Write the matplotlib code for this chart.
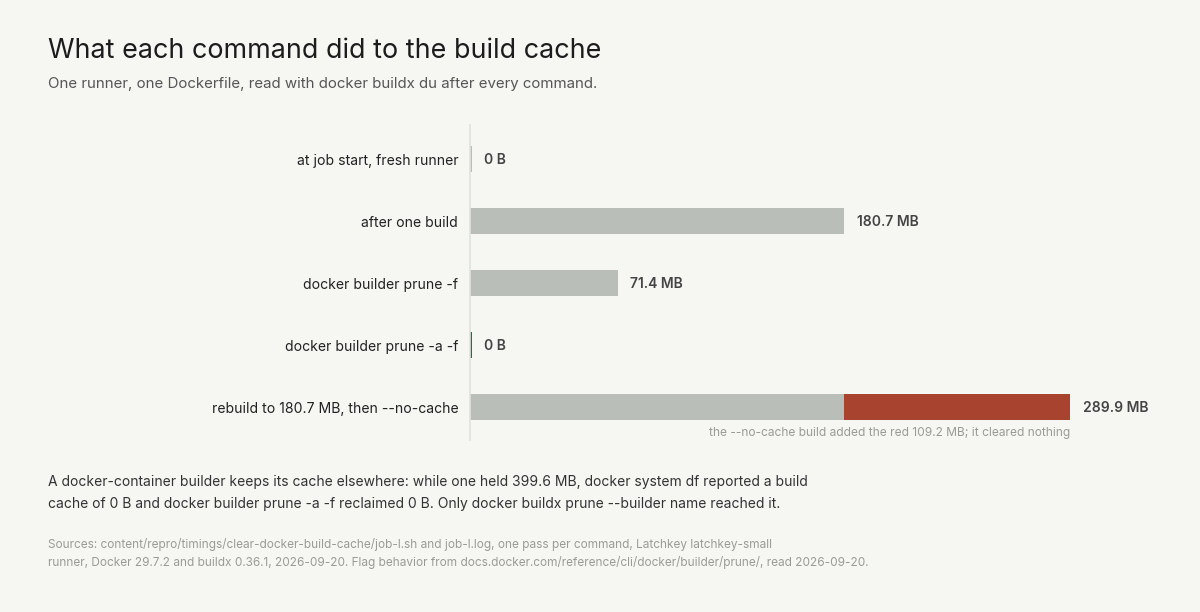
import numpy as np
import matplotlib
matplotlib.use("Agg")
import matplotlib.pyplot as plt

plt.rcParams['font.family'] = ['Inter', 'DejaVu Sans']

# data
steps = ["at job start, fresh runner", "after one build", "docker builder prune -f",
         "docker builder prune -a -f", "rebuild to 180.7 MB, then --no-cache"]
kept_mb = [0.0, 180.7, 71.4, 0.0, 180.7]
added_mb = [0.0, 0.0, 0.0, 0.0, 109.2]
total_labels = ["0 B", "180.7 MB", "71.4 MB", "0 B", "289.9 MB"]

bg = "#f6f6f2"
grey = "#b9bfb8"
green = "#2e6b40"
red = "#a8432f"
bar_colors = [grey, grey, grey, green, grey]

W, H = 1200, 612
fig = plt.figure(figsize=(W / 100, H / 100), dpi=100, facecolor=bg)

# axes placed in pixel terms: left edge 470, spine from y=125 to y=440
ax = fig.add_axes([470 / W, 1 - 440 / H, 621 / W, 315 / H], facecolor=bg)

y = np.arange(len(steps))
kept = np.array(kept_mb)
added = np.array(added_mb)
# a zero bar still shows as a thin stub on the axis
shown = np.where(kept + added == 0, 0.9, kept)
ax.barh(y, shown, height=0.42, color=bar_colors, zorder=2)
ax.barh(y, added, left=kept, height=0.42, color=red, zorder=2)

for i, lab in enumerate(total_labels):
    ax.annotate(lab, xy=(shown[i] + added[i], i), xytext=(9, -0.5), textcoords="offset points",
                va="center", ha="left", fontsize=10, fontweight="semibold", color="#444444")

ax.annotate("the --no-cache build added the red 109.2 MB; it cleared nothing",
            xy=(kept[4] + added[4], 4), xytext=(0, -18.5), textcoords="offset points",
            va="center", ha="right", fontsize=8.6, color="#9a9a96")

ax.set_xlim(0, 300)
ax.set_ylim(4.53, -0.55)
ax.set_yticks(y, steps, fontsize=10.1, color="#222222")
ax.tick_params(axis="y", length=0, pad=8.5)
ax.set_xticks([])
for s in ["top", "right", "bottom"]:
    ax.spines[s].set_visible(False)
ax.spines["left"].set_color("#e2e2dd")
ax.spines["left"].set_linewidth(1.2)


def ftext(x, yb, s, **kw):
    fig.text(x / W, 1 - yb / H, s, va="baseline", ha="left", **kw)


ftext(48, 58, "What each command did to the build cache", fontsize=19.4, color="#1c1c1c")
ftext(48, 88, "One runner, one Dockerfile, read with docker buildx du after every command.",
      fontsize=10.8, color="#555555")
ftext(48, 486, "A docker-container builder keeps its cache elsewhere: while one held 399.6 MB, "
      "docker system df reported a build", fontsize=10.0, color="#333333")
ftext(48, 508, "cache of 0 B and docker builder prune -a -f reclaimed 0 B. Only docker buildx prune "
      "--builder name reached it.", fontsize=10.0, color="#333333")
ftext(48, 548, "Sources: content/repro/timings/clear-docker-build-cache/job-l.sh and job-l.log, "
      "one pass per command, Latchkey latchkey-small", fontsize=8.53, color="#9a9a96")
ftext(48, 566, "runner, Docker 29.7.2 and buildx 0.36.1, 2026-09-20. Flag behavior from "
      "docs.docker.com/reference/cli/docker/builder/prune/, read 2026-09-20.",
      fontsize=8.53, color="#9a9a96")

fig.savefig("out.png", dpi=100, facecolor=bg)
